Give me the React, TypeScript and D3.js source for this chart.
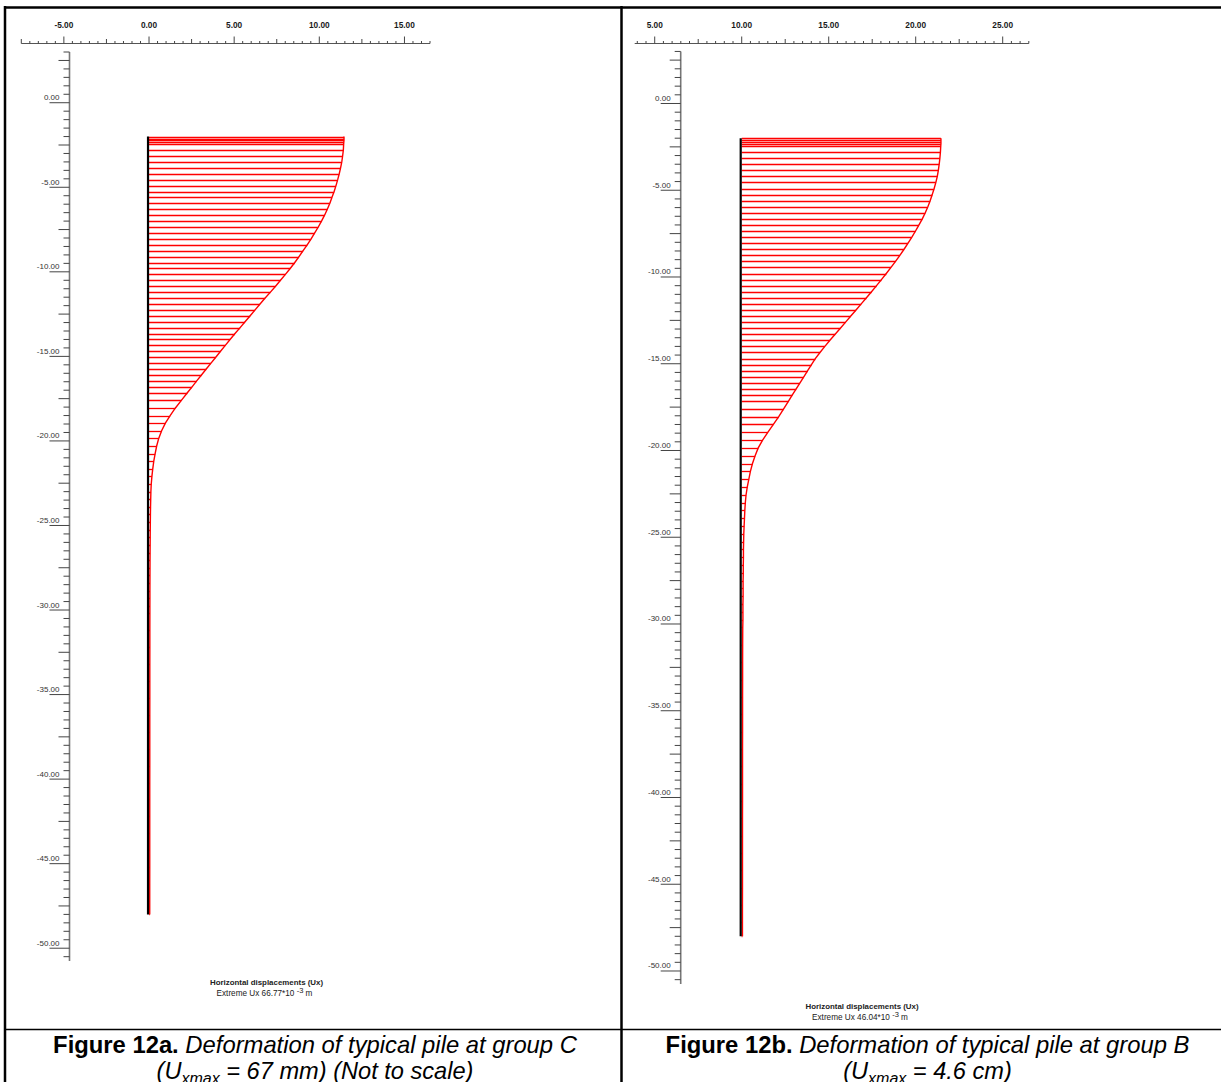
import React from 'react';
import * as d3 from 'd3';

// Node elevations along the pile (m), shared by both analyses
const nodeElevations = [
  -2.0, -2.12, -2.22, -2.32, -2.45,
  -2.8, -3.15, -3.5, -3.85, -4.2, -4.55, -4.9, -5.25, -5.6, -5.95,
  -6.3, -6.65, -7.0, -7.35, -7.7, -8.05, -8.4, -8.75, -9.1, -9.45,
  -9.8, -10.15, -10.5, -10.85, -11.2, -11.55, -11.9, -12.25, -12.6, -12.95,
  -13.3, -13.65, -14.0, -14.35, -14.7, -15.05, -15.4, -15.75, -16.1, -16.45,
  -16.8, -17.15,
  -17.6, -18.05, -18.5, -18.95, -19.4, -19.85, -20.3, -20.75, -21.2, -21.65,
  -22.1, -22.55, -23.0, -23.45, -23.9, -24.35, -24.8, -25.25, -25.7, -26.15,
  -26.6, -27.05, -27.5, -27.95, -28.4, -28.85, -29.3, -29.75, -30.2,
  -31.2, -32.2, -33.2, -34.2, -35.2, -36.2, -37.2, -38.2, -39.2, -40.2,
  -41.2, -42.2, -43.2, -44.2, -45.2, -46.2, -47.2, -48.0,
];

// Horizontal displacement Ux at each node, group C (×10^-3 m)
const uxGroupC = [
  66.77, 66.77, 66.77, 66.71, 66.65,
  66.54, 66.3, 66.01, 65.6, 65.14, 64.61, 64.03, 63.39, 62.63, 61.93,
  61.05, 60.12, 59.07, 57.96, 56.74, 55.51, 54.17, 52.77, 51.37, 49.92,
  48.34, 46.71, 45.02, 43.33, 41.58, 39.77, 38.02, 36.33, 34.64, 32.89,
  31.2, 29.45, 27.76, 26.12, 24.49, 22.86, 21.23, 19.59, 17.96, 16.33,
  14.75, 13.12,
  11.08, 9.04, 7.23, 5.6, 4.32, 3.32, 2.62, 2.1, 1.63, 1.28,
  0.99, 0.76, 0.64, 0.58, 0.52, 0.48, 0.45, 0.42, 0.4, 0.38,
  0.36, 0.34, 0.33, 0.32, 0.31, 0.3, 0.3, 0.29, 0.29,
  0.28, 0.28, 0.27, 0.27, 0.27, 0.26, 0.26, 0.26, 0.26, 0.25,
  0.25, 0.25, 0.25, 0.25, 0.25, 0.24, 0.24, 0.24,
];

// Horizontal displacement Ux at each node, group B (×10^-3 m)
const uxGroupB = [
  46.04, 46.04, 46.04, 46.04, 46.0,
  45.92, 45.8, 45.64, 45.44, 45.2, 44.87, 44.47, 44.03, 43.55, 43.02,
  42.42, 41.74, 40.97, 40.17, 39.33, 38.44, 37.52, 36.55, 35.55, 34.5,
  33.41, 32.29, 31.16, 30.0, 28.83, 27.62, 26.42, 25.21, 24.01, 22.8,
  21.59, 20.39, 19.22, 18.09, 17.01, 16.12, 15.24, 14.35, 13.47, 12.59,
  11.7, 10.82,
  9.69, 8.56, 7.32, 6.03, 4.83, 3.82, 3.1, 2.49, 2.01, 1.65,
  1.29, 1.01, 0.84, 0.72, 0.64, 0.56, 0.48, 0.44, 0.4, 0.4,
  0.36, 0.36, 0.32, 0.32, 0.32, 0.28, 0.28, 0.28, 0.24,
  0.22, 0.21, 0.21, 0.2, 0.2, 0.2, 0.19, 0.19, 0.19, 0.19,
  0.18, 0.18, 0.18, 0.18, 0.18, 0.17, 0.17, 0.17,
];

const extremeC = 66.77;
const extremeB = 46.04;
const pileTop = -2.0;
const pileBottom = -48.0;

const xTickLabelsC = [-5, 0, 5, 10, 15];
const xTickLabelsB = [5, 10, 15, 20, 25];
const yTickLabels = [0, -5, -10, -15, -20, -25, -30, -35, -40, -45, -50];

// Displacement diagrams are drawn with the extreme value spanning this many axis units
const DIAGRAM_SPAN = 11.45;

const FONT = "'Liberation Sans', Arial, Helvetica, sans-serif";
const RED = '#ff0000';

type PanelProps = {
  xDomain: [number, number];
  xRange: [number, number];
  yDomain: [number, number];
  yRange: [number, number];
  axisY: number;
  axisX: number;
  pileAt: number;
  ux: number[];
  extreme: number;
  xTickLabels: number[];
  legendX: number;
  legendY: number;
};

function tickKind(v: number) {
  const r5 = Math.abs(v / 5 - Math.round(v / 5));
  const r25 = Math.abs(v / 2.5 - Math.round(v / 2.5));
  if (r5 < 1e-6) return 'major';
  if (r25 < 1e-6) return 'medium';
  return 'minor';
}

function Panel(p: PanelProps) {
  const x = d3.scaleLinear().domain(p.xDomain).range(p.xRange);
  const y = d3.scaleLinear().domain(p.yDomain).range(p.yRange);
  const u = d3
    .scaleLinear()
    .domain([0, p.extreme])
    .range([x(p.pileAt), x(p.pileAt + DIAGRAM_SPAN)]);

  const xTicks = d3.range(Math.ceil(p.xDomain[0] * 2) / 2, p.xDomain[1] + 1e-6, 0.5);
  const yTicks = d3.range(Math.floor(p.yDomain[0] * 2) / 2, p.yDomain[1] - 1e-6, -0.5);

  const nodes = nodeElevations.map((e, i) => ({ e, v: p.ux[i] }));
  const outline = d3
    .line<{ e: number; v: number }>()
    .x((d) => u(d.v))
    .y((d) => y(d.e));

  const tickLen = { major: 7, medium: 4.5, minor: 2.5 } as const;
  const yTickLen = { major: 20, medium: 11, minor: 6 } as const;

  return (
    <g>
      {/* top axis */}
      <line x1={p.xRange[0]} x2={p.xRange[1]} y1={p.axisY} y2={p.axisY} stroke="#555" strokeWidth={1} />
      {xTicks.map((t) => {
        const k = tickKind(t);
        return (
          <line key={'xt' + t} x1={x(t)} x2={x(t)} y1={p.axisY} y2={p.axisY - tickLen[k]} stroke="#444" strokeWidth={1} />
        );
      })}
      {p.xTickLabels.map((t) => (
        <text key={'xl' + t} x={x(t)} y={p.axisY - 15.5} textAnchor="middle" fontSize={8.3} fontWeight="bold" fontFamily={FONT} fill="#1a1a1a">
          {t.toFixed(2)}
        </text>
      ))}

      {/* depth axis */}
      <line x1={p.axisX} x2={p.axisX} y1={p.yRange[0]} y2={p.yRange[1]} stroke="#777" strokeWidth={1.6} />
      {yTicks.map((t) => {
        const k = tickKind(t);
        return (
          <line key={'yt' + t} x1={p.axisX} x2={p.axisX - yTickLen[k]} y1={y(t)} y2={y(t)} stroke="#444" strokeWidth={1} />
        );
      })}
      {yTickLabels.map((t) => (
        <text key={'yl' + t} x={p.axisX - 10} y={y(t) - 2.5} textAnchor="end" fontSize={8} fontFamily={FONT} fill="#333">
          {t.toFixed(2)}
        </text>
      ))}

      {/* displacement bars */}
      {nodes.map((d, i) => {
        const yy = Math.round(y(d.e)) + 0.5;
        return (
          <line key={'b' + i} x1={u(0)} x2={u(d.v)} y1={yy} y2={yy} stroke={RED} strokeWidth={1.3} />
        );
      })}
      <path d={outline(nodes) ?? ''} fill="none" stroke={RED} strokeWidth={1.4} />

      {/* pile */}
      <line x1={x(p.pileAt) - 1} x2={x(p.pileAt) - 1} y1={y(pileTop)} y2={y(pileBottom)} stroke="#000" strokeWidth={2.2} />

      {/* legend */}
      <text x={p.legendX} y={p.legendY - 0.5} textAnchor="middle" fontSize={7.9} fontWeight="bold" fontFamily={FONT} fill="#222">
        Horizontal displacements (Ux)
      </text>
      <text x={p.legendX - 2} y={p.legendY + 10.5} textAnchor="middle" fontSize={8.2} fontFamily={FONT} fill="#222">
        {'Extreme Ux ' + p.extreme.toFixed(2) + '*10 '}
        <tspan dy={-3} fontSize={7.5}>-3</tspan>
        <tspan dy={3}>{'  m'}</tspan>
      </text>
    </g>
  );
}

export default function App() {
  const W = 1221;
  const H = 1082;
  return (
    <svg width={W} height={H} style={{ position: 'absolute', left: 0, top: 0, background: '#fff' }}>
      <rect x={0} y={0} width={W} height={H} fill="#fff" />
      <Panel
        xDomain={[-7.5, 16.5]}
        xRange={[21.3, 430]}
        yDomain={[3, -50.75]}
        yRange={[52.0, 960.9]}
        axisY={43.5}
        axisX={69.5}
        pileAt={0}
        ux={uxGroupC}
        extreme={extremeC}
        xTickLabels={xTickLabelsC}
        legendX={266.5}
        legendY={985}
      />
      <Panel
        xDomain={[3.85, 26.5]}
        xRange={[634.7, 1028.8]}
        yDomain={[3, -50.75]}
        yRange={[51.45, 984]}
        axisY={43.5}
        axisX={680.7}
        pileAt={10}
        ux={uxGroupB}
        extreme={extremeB}
        xTickLabels={xTickLabelsB}
        legendX={862}
        legendY={1009}
      />

      {/* table frame */}
      <line x1={4} x2={W} y1={7.5} y2={7.5} stroke="#000" strokeWidth={2.5} />
      <line x1={5} x2={5} y1={6} y2={H} stroke="#000" strokeWidth={2.5} />
      <line x1={621.5} x2={621.5} y1={6} y2={H} stroke="#000" strokeWidth={2.5} />
      <line x1={4} x2={W} y1={1029.5} y2={1029.5} stroke="#000" strokeWidth={1.5} />

      {/* captions */}
      <text x={315} y={1053} textAnchor="middle" fontSize={23.8} fontFamily={FONT} fill="#000">
        <tspan fontWeight="bold">Figure 12a.</tspan>
        <tspan fontStyle="italic"> Deformation of typical pile at group C</tspan>
      </text>
      <text x={315} y={1079} textAnchor="middle" fontSize={23.6} fontFamily={FONT} fontStyle="italic" fill="#000">
        (U<tspan fontSize={16} dy={5}>xmax</tspan>
        <tspan dy={-5}> = 67 mm) (Not to scale)</tspan>
      </text>
      <text x={927.5} y={1053} textAnchor="middle" fontSize={23.8} fontFamily={FONT} fill="#000">
        <tspan fontWeight="bold">Figure 12b.</tspan>
        <tspan fontStyle="italic"> Deformation of typical pile at group B</tspan>
      </text>
      <text x={927.5} y={1079} textAnchor="middle" fontSize={23.6} fontFamily={FONT} fontStyle="italic" fill="#000">
        (U<tspan fontSize={16} dy={5}>xmax</tspan>
        <tspan dy={-5}> = 4.6 cm)</tspan>
      </text>
    </svg>
  );
}
